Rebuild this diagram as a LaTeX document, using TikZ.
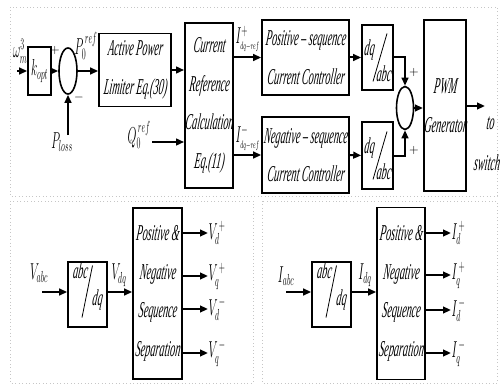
\documentclass[tikz,border=0pt]{standalone}
\usepackage{fontspec}
\setmainfont{Liberation Serif Italic}[FakeStretch=0.45, FakeSlant=0.12]
\usepackage{graphicx}
\usetikzlibrary{arrows.meta,shapes.geometric}

\tikzset{every picture/.style={line width=0.75pt}}
% narrow math labels, to sit with the condensed text
\newcommand{\sqz}[1]{\scalebox{0.5}[1]{#1}}

\tikzset{
  blk/.style={draw, line width=1.2pt, inner sep=0pt, align=center,
    font=\fontsize{17}{29}\selectfont},
  sumj/.style={draw, ellipse, line width=1.2pt, inner sep=0pt},
  sig/.style={line width=1.5pt, -{Triangle[length=6pt,width=5pt]}},
  txt/.style={inner sep=0pt, font=\fontsize{17}{20}\selectfont},
  sgn/.style={inner sep=0pt, font=\fontsize{9}{9}\selectfont},
  slash/.style={line width=0.6pt},
  panel/.style={draw=gray!45, dotted, line width=0.6pt}
}

\begin{document}
\begin{tikzpicture}[x=0.75pt,y=0.75pt,yscale=-1,xscale=1]
\useasboundingbox (0,0) rectangle (500,385);

%Panels
\draw[panel] (10,7) rectangle (497,196);
\draw[panel] (10,201) rectangle (253,383);
\draw[panel] (262,201) rectangle (497,383);

%Power reference path
\node[blk, minimum width=17.25pt, minimum height=36pt] (kopt) at (39.5,71) {\sqz{$k_{opt}$}};
\node[sumj, minimum width=13.5pt, minimum height=34.5pt] (sum1) at (68,71) {};
\node[blk, minimum width=54pt, minimum height=54.75pt] (apl) at (135,70) {Active Power\\Limiter Eq.(30)};
\node[blk, minimum width=36pt, minimum height=123.75pt] (crc) at (209,105.5) {Current\\Reference\\Calculation\\Eq.(11)};

%Sequence controllers
\node[blk, minimum width=65.25pt, minimum height=56.25pt] (pos) at (305.5,57.5) {Positive – sequence\\Current Controller};
\node[blk, minimum width=65.25pt, minimum height=57pt] (neg) at (305.5,155) {Negative – sequence\\Current Controller};
\node[blk, minimum width=23.25pt, minimum height=48.75pt] (dqp) at (377.5,57.5) {};
\node[blk, minimum width=23.25pt, minimum height=50.25pt] (dqn) at (377.5,155.5) {};
\node[sumj, minimum width=12.75pt, minimum height=32.25pt] (sum2) at (405,108) {};
\node[blk, minimum width=31.5pt, minimum height=128.25pt] (pwm) at (445,105.5) {PWM\\Generator};

% dq/abc labels
\node[txt] (dqpn) at ([shift={(-8.5,-7.5)}]dqp.center) {dq};
\node[txt] (dqpd) at ([shift={(6,16.5)}]dqp.center) {abc};
\draw[slash] ([shift={(9.5,-24)}]dqp.center) -- ([shift={(-4.5,24)}]dqp.center);
\node[txt] (dqnn) at ([shift={(-8.5,-7.5)}]dqn.center) {dq};
\node[txt] (dqnd) at ([shift={(6,16.5)}]dqn.center) {abc};
\draw[slash] ([shift={(9.5,-24)}]dqn.center) -- ([shift={(-4.5,24)}]dqn.center);

% inputs and outputs
\coordinate (win) at (17,71);
\coordinate (ploss) at (68,135);
\coordinate (qin) at (152,142);
\coordinate (pout) at (485,106);

\draw[sig] (win) -- (kopt.west);
\draw[sig] (kopt.east) -- (sum1.west);
\draw[sig] (ploss) -- (sum1.south);
\draw[sig] (sum1.east) -- (apl.west |- sum1.east);
\draw[sig] (apl.east) -- (crc.west |- apl.east);
\draw[sig] (qin) -- (crc.west |- qin);
\draw[sig] (crc.east |- pos.west) -- (pos.west);
\draw[sig] (crc.east |- neg.west) -- (neg.west);
\draw[sig] (pos.east) -- (dqp.west);
\draw[sig] (neg.east) -- (dqn.west);
\draw[sig] (dqp.east) -| (sum2.north);
\draw[sig] (dqn.east) -| (sum2.south);
\draw[sig] (sum2.east) -- (pwm.west |- sum2.east);
\draw[sig] (pwm.east |- pout) -- (pout);

% Text Node
\node[txt, anchor=south] (wlbl) at (20,64) {\sqz{$\omega_m^3$}};
\node[sgn] (p1) at (55,51) {$+$};
\node[sgn] (m1) at (79,98) {$-$};
\node[txt] (plbl) at (62,142) {\sqz{$P_{loss}$}};
\node[txt] (p0lbl) at (86,46) {\sqz{$P_0^{\,ref}$}};
\node[txt] (q0lbl) at (139,135) {\sqz{$Q_0^{\,ref}$}};
\node[txt, anchor=west] (iplbl) at (235,39) {\sqz{$I^{+}_{\scriptscriptstyle dq-ref}$}};
\node[txt, anchor=west] (imlbl) at (235,138) {\sqz{$I^{-}_{\scriptscriptstyle dq-ref}$}};
\node[sgn] (p2) at (414,72) {$+$};
\node[sgn] (p3) at (414,150) {$+$};
\node[txt] (tolbl) at (490,123) {to};
\node[txt] (swlbl) at (486.5,163) {switch};

%Voltage separation
\node[blk, minimum width=29.25pt, minimum height=48.75pt] (abcv) at (87.5,294.5) {};
\node[txt] (abcvn) at ([shift={(-7.5,-24)}]abcv.center) {abc};
\node[txt] (abcvd) at ([shift={(9.5,6)}]abcv.center) {dq};
\draw[slash] ([shift={(5,-29)}]abcv.center) -- ([shift={(-5.5,23)}]abcv.center);
\node[blk, minimum width=36.75pt, minimum height=128.25pt] (sepv) at (157.5,293.5) {Positive \&\\Negative\\Sequence\\Separation};

\coordinate (vin) at (42,292);
\node[txt] (vabc) at (39,273) {\sqz{$V_{abc}$}};
\node[txt] (vdq) at (119,275) {\sqz{$V_{dq}$}};
\draw[sig] (vin) -- (abcv.west |- vin);
\draw[sig] (abcv.east |- vin) -- (sepv.west |- vin);

\node[txt, anchor=west] (vdp) at (208,233) {\sqz{$V_d^{\,+}$}};
\node[txt, anchor=west] (vqp) at (208,276) {\sqz{$V_q^{\,+}$}};
\node[txt, anchor=west] (vdm) at (208,309) {\sqz{$V_d^{\,-}$}};
\node[txt, anchor=west] (vqm) at (208,353) {\sqz{$V_q^{\,-}$}};
\foreach \o in {vdp,vqp,vdm,vqm}
  \draw[sig] (sepv.east |- \o.west) -- (\o.west);

%Current separation
\node[blk, minimum width=29.25pt, minimum height=48.75pt] (abci) at (331.5,294.5) {};
\node[txt] (abcin) at ([shift={(-7.5,-24)}]abci.center) {abc};
\node[txt] (abcid) at ([shift={(9.5,6)}]abci.center) {dq};
\draw[slash] ([shift={(5,-29)}]abci.center) -- ([shift={(-5.5,23)}]abci.center);
\node[blk, minimum width=36pt, minimum height=129pt] (sepi) at (401,293.5) {Positive \&\\Negative\\Sequence\\Separation};

\coordinate (iin) at (286,292);
\node[txt] (iabc) at (286,276) {\sqz{$I_{abc}$}};
\node[txt] (idq) at (365,275) {\sqz{$I_{dq}$}};
\draw[sig] (iin) -- (abci.west |- iin);
\draw[sig] (abci.east |- iin) -- (sepi.west |- iin);

\node[txt, anchor=west] (idp) at (451,233) {\sqz{$I_d^{\,+}$}};
\node[txt, anchor=west] (iqp) at (451,275) {\sqz{$I_q^{\,+}$}};
\node[txt, anchor=west] (idm) at (451,310) {\sqz{$I_d^{\,-}$}};
\node[txt, anchor=west] (iqm) at (451,353) {\sqz{$I_q^{\,-}$}};
\foreach \o in {idp,iqp,idm,iqm}
  \draw[sig] (sepi.east |- \o.west) -- (\o.west);

\end{tikzpicture}
\end{document}
